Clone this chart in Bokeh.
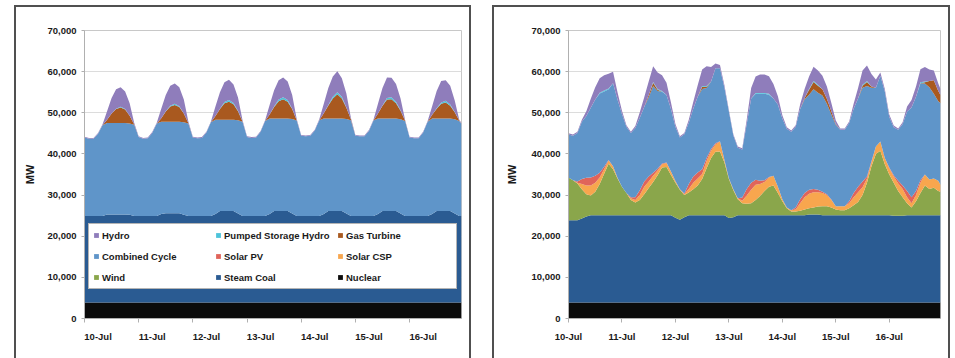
from bokeh.plotting import figure
from bokeh.models import (ColumnDataSource, Legend, LegendItem, FixedTicker,
                          NumeralTickFormatter, Range1d, Spacer)
from bokeh.layouts import row, column
from bokeh.embed import file_html
from bokeh.resources import INLINE

# ---------------- data ----------------
# sample times, hours after 10-Jul 00:00 (2-hour steps, last hour of 16-Jul)
HOURS = list(range(0, 168, 2)) + [167]
DAY_LABELS = ["10-Jul", "11-Jul", "12-Jul", "13-Jul", "14-Jul", "15-Jul", "16-Jul"]
Y_TICKS = [0, 10000, 20000, 30000, 40000, 50000, 60000, 70000]

# stacking order, bottom to top
KEYS = ["nuclear", "coal", "wind", "csp", "pv", "cc", "gt", "psh", "hydro"]
NAMES = {"hydro": "Hydro", "psh": "Pumped Storage Hydro", "gt": "Gas Turbine",
         "cc": "Combined Cycle", "pv": "Solar PV", "csp": "Solar CSP",
         "wind": "Wind", "coal": "Steam Coal", "nuclear": "Nuclear"}
# legend fills column by column: rows read Hydro/PSH/GT, CC/PV/CSP, Wind/Coal/Nuclear
LEGEND_ORDER = ["hydro", "cc", "wind", "psh", "pv", "coal", "gt", "csp", "nuclear"]
COLORS = {"hydro": "#8F7DBB", "psh": "#4CC3DA", "gt": "#A9591F",
          "cc": "#5F95C9", "pv": "#E0645A", "csp": "#F8A64E",
          "wind": "#8AA64B", "coal": "#2A5B92", "nuclear": "#0B0B0B"}

# ---- left panel (MW) ----
LEFT_NUCLEAR = [
    3900, 3900, 3900, 3900, 3900, 3900, 3900, 3900, 3900, 3900, 3900, 3900,
    3900, 3900, 3900, 3900, 3900, 3900, 3900, 3900, 3900, 3900, 3900, 3900,
    3900, 3900, 3900, 3900, 3900, 3900, 3900, 3900, 3900, 3900, 3900, 3900,
    3900, 3900, 3900, 3900, 3900, 3900, 3900, 3900, 3900, 3900, 3900, 3900,
    3900, 3900, 3900, 3900, 3900, 3900, 3900, 3900, 3900, 3900, 3900, 3900,
    3900, 3900, 3900, 3900, 3900, 3900, 3900, 3900, 3900, 3900, 3900, 3900,
    3900, 3900, 3900, 3900, 3900, 3900, 3900, 3900, 3900, 3900, 3900, 3900,
    3900]
LEFT_COAL = [
    21000, 21000, 21000, 21000, 21000, 21400, 21400, 21400, 21400, 21400, 21300, 21000,
    21000, 21000, 21000, 21000, 21000, 21500, 21700, 21700, 21700, 21700, 21300, 21000,
    21000, 21000, 21000, 21000, 21000, 21500, 22200, 22200, 22200, 22200, 21600, 21000,
    21000, 21000, 21000, 21000, 21000, 21500, 22200, 22200, 22200, 22200, 21600, 21000,
    21000, 21000, 21000, 21000, 21000, 21500, 22200, 22200, 22200, 22200, 21600, 21000,
    21000, 21000, 21000, 21000, 21000, 21500, 22200, 22200, 22200, 22200, 21600, 21000,
    21000, 21000, 21000, 21000, 21000, 21500, 22200, 22200, 22200, 22200, 21600, 21000,
    21000]
LEFT_WIND = [
    0, 0, 0, 0, 0, 0, 0, 0, 0, 0, 0, 0,
    0, 0, 0, 0, 0, 0, 0, 0, 0, 0, 0, 0,
    0, 0, 0, 0, 0, 0, 0, 0, 0, 0, 0, 0,
    0, 0, 0, 0, 0, 0, 0, 0, 0, 0, 0, 0,
    0, 0, 0, 0, 0, 0, 0, 0, 0, 0, 0, 0,
    0, 0, 0, 0, 0, 0, 0, 0, 0, 0, 0, 0,
    0, 0, 0, 0, 0, 0, 0, 0, 0, 0, 0, 0,
    0]
LEFT_SOLAR_CSP = list(LEFT_WIND)
LEFT_SOLAR_PV = list(LEFT_WIND)
LEFT_CC = [
    19100, 18800, 18800, 20000, 22100, 22200, 22200, 22200, 22200, 22200, 22200, 22200,
    19200, 18800, 18900, 20200, 22500, 22400, 22200, 22200, 22200, 22200, 22500, 22500,
    19100, 18900, 19000, 20300, 22800, 22900, 22200, 22200, 22200, 22200, 22700, 22900,
    19200, 19000, 19100, 20500, 23100, 23200, 22500, 22500, 22500, 22500, 23000, 23200,
    19500, 19400, 19500, 20800, 23300, 23200, 22500, 22500, 22500, 22500, 23000, 23300,
    19500, 19400, 19400, 20700, 23200, 23200, 22500, 22500, 22500, 22500, 22900, 23100,
    19100, 18900, 18900, 20300, 22900, 23200, 22500, 22500, 22500, 22500, 22900, 23100,
    22400]
LEFT_GT = [
    0, 0, 0, 0, 0, 800, 2300, 3400, 3800, 3300, 1900, 100,
    0, 0, 0, 0, 0, 900, 2500, 3700, 4100, 3600, 2100, 100,
    0, 0, 0, 0, 0, 900, 2600, 4000, 4400, 3800, 2200, 100,
    0, 0, 0, 0, 0, 1000, 2800, 4200, 4700, 4100, 2400, 100,
    0, 0, 0, 0, 0, 1300, 3200, 4900, 5900, 4900, 2700, 200,
    0, 0, 0, 0, 0, 1200, 3100, 4600, 4700, 3700, 2100, 100,
    0, 0, 0, 0, 0, 900, 2400, 3600, 3900, 3100, 1700, 100,
    0]
LEFT_PSH = [
    0, 0, 0, 0, 0, 0, 0, 100, 150, 100, 0, 0,
    0, 0, 0, 0, 0, 0, 100, 200, 300, 200, 0, 0,
    0, 0, 0, 0, 0, 0, 100, 300, 400, 300, 100, 0,
    0, 0, 0, 0, 0, 0, 100, 400, 500, 400, 100, 0,
    0, 0, 0, 0, 0, 0, 100, 400, 500, 400, 100, 0,
    0, 0, 0, 0, 0, 0, 100, 400, 500, 400, 100, 0,
    0, 0, 0, 0, 0, 0, 100, 300, 400, 300, 100, 0,
    0]
LEFT_HYDRO = [
    200, 200, 200, 200, 200, 2100, 3800, 4700, 4750, 4300, 3000, 400,
    200, 200, 200, 200, 200, 2300, 3900, 4900, 4900, 4600, 3400, 400,
    200, 200, 200, 200, 200, 2300, 4000, 4800, 4900, 4500, 3200, 300,
    200, 200, 200, 200, 200, 2300, 4000, 4700, 4800, 4500, 3300, 300,
    200, 200, 200, 200, 200, 2300, 4100, 4900, 5100, 4500, 3400, 400,
    200, 200, 200, 200, 200, 2400, 4200, 5000, 4700, 4300, 2900, 200,
    200, 200, 200, 200, 200, 2100, 4200, 5200, 5000, 4600, 2800, 200,
    200]

# ---- right panel (MW) ----
RIGHT_NUCLEAR = list(LEFT_NUCLEAR)
RIGHT_COAL = [
    20000, 20000, 20000, 20400, 20900, 21200, 21200, 21200, 21200, 21200, 21200, 21200,
    21200, 21200, 21200, 21200, 21200, 21200, 21200, 21200, 21200, 21200, 21200, 21200,
    20600, 20100, 20700, 21200, 21200, 21200, 21200, 21200, 21200, 21200, 21200, 21200,
    20500, 20700, 21200, 21200, 21200, 21200, 21200, 21200, 21200, 21200, 21200, 21200,
    21200, 21200, 21200, 21200, 21200, 21200, 21400, 21400, 21400, 21200, 21200, 21200,
    21200, 21200, 21200, 21200, 21200, 21200, 21200, 21200, 21200, 21200, 21200, 21200,
    21200, 21100, 21100, 21100, 21200, 21200, 21200, 21200, 21200, 21200, 21200, 21200,
    21200]
RIGHT_WIND = [
    10400, 9700, 8900, 7100, 5400, 4800, 5700, 7600, 10100, 12500, 11200, 8900,
    6900, 5400, 3700, 3100, 3700, 5100, 6600, 8100, 9700, 11600, 11700, 9800,
    8500, 7300, 5400, 5500, 6300, 7200, 8800, 11400, 13900, 15400, 15500, 12800,
    9500, 6600, 3900, 2900, 2800, 2900, 3700, 4700, 5900, 6900, 7200, 5400,
    3400, 1700, 900, 900, 1100, 1400, 1500, 1700, 1900, 2200, 2200, 1900,
    1400, 1200, 1200, 1700, 2400, 3200, 4900, 7900, 11900, 14900, 15700, 12400,
    9900, 8000, 6000, 4500, 2900, 1900, 3400, 5400, 7200, 6400, 6700, 5900,
    5700]
RIGHT_SOLAR_CSP = [
    0, 0, 200, 1300, 2100, 2400, 2200, 1600, 1100, 800, 700, 200,
    0, 0, 400, 600, 1200, 1800, 1600, 1500, 1200, 800, 1000, 800,
    400, 100, 200, 900, 1600, 1700, 1200, 1800, 1800, 1800, 2400, 600,
    200, 200, 200, 600, 2000, 3300, 3700, 2900, 2200, 2300, 2400, 1500,
    500, 200, 300, 500, 1800, 3000, 3500, 3700, 3500, 3200, 2700, 1800,
    800, 1000, 1000, 1200, 2000, 2400, 1900, 1000, 1000, 1800, 2200, 1500,
    1500, 1500, 1800, 2000, 1500, 1000, 1500, 2500, 2700, 2300, 2200, 2500,
    1700]
RIGHT_SOLAR_PV = [
    0, 0, 300, 1200, 1900, 2000, 1700, 1100, 600, 100, 0, 0,
    0, 0, 300, 700, 1200, 1300, 1200, 700, 400, 200, 100, 0,
    0, 0, 200, 1200, 1500, 1500, 1200, 700, 400, 300, 100, 0,
    0, 0, 0, 800, 1600, 1700, 1200, 800, 400, 100, 0, 0,
    0, 0, 0, 500, 1000, 1000, 1000, 800, 600, 300, 200, 100,
    0, 0, 0, 500, 1000, 1300, 1400, 500, 200, 0, 0, 0,
    200, 300, 700, 800, 1500, 1500, 1000, 600, 0, 0, 0, 0,
    0]
RIGHT_CC = [
    10400, 10800, 11800, 13900, 15000, 16900, 18500, 19300, 18300, 17200, 20200, 19000,
    17700, 16100, 15600, 16800, 17600, 18100, 19300, 21100, 18900, 17400, 16400, 15200,
    13200, 12600, 14400, 14900, 16500, 18400, 19500, 17000, 16400, 18200, 17700, 17600,
    16200, 13100, 12300, 11700, 15800, 20500, 20900, 21100, 21000, 20000, 18800, 20000,
    19600, 19100, 19100, 19600, 21900, 22800, 23100, 24200, 23600, 23400, 22000, 20700,
    19800, 18600, 18600, 19000, 20500, 21500, 22800, 22000, 17900, 14300, 16000, 16200,
    12300, 11700, 12400, 15000, 19300, 21800, 22900, 23600, 22100, 22400, 20600, 19300,
    19800]
RIGHT_GT = [
    0, 0, 0, 0, 0, 0, 0, 0, 0, 0, 0, 0,
    0, 0, 0, 0, 0, 0, 500, 800, 300, 0, 0, 0,
    0, 0, 0, 0, 0, 0, 500, 300, 0, 0, 0, 0,
    0, 0, 0, 0, 0, 0, 0, 0, 0, 0, 0, 0,
    0, 0, 0, 0, 0, 300, 1200, 1800, 1700, 1500, 1200, 800,
    200, 0, 0, 0, 0, 0, 500, 1000, 300, 0, 0, 0,
    0, 0, 0, 0, 0, 0, 0, 0, 300, 1500, 3300, 2500,
    2000]
RIGHT_PSH = [
    0, 0, 0, 0, 0, 0, 0, 200, 200, 200, 0, 0,
    0, 0, 0, 0, 0, 0, 0, 200, 200, 200, 0, 0,
    0, 0, 0, 0, 0, 0, 200, 200, 0, 0, 0, 0,
    0, 0, 0, 0, 0, 0, 200, 200, 200, 200, 0, 0,
    0, 0, 0, 0, 0, 0, 200, 200, 200, 0, 0, 0,
    0, 0, 0, 0, 0, 0, 200, 200, 0, 0, 0, 0,
    0, 0, 0, 0, 0, 0, 0, 200, 200, 0, 0, 0,
    0]
RIGHT_HYDRO = [
    300, 300, 300, 500, 1200, 2200, 3000, 3500, 3700, 3600, 2800, 1800,
    800, 400, 300, 500, 1300, 2400, 3300, 3800, 4000, 3800, 3000, 1600,
    700, 300, 300, 700, 1600, 2800, 4000, 4800, 3500, 1200, 800, 600,
    400, 300, 300, 300, 1000, 2500, 4000, 4500, 4500, 4300, 3500, 2000,
    800, 400, 300, 400, 1200, 2200, 3000, 3500, 3500, 3300, 3000, 2000,
    800, 300, 300, 400, 1200, 2500, 3500, 3800, 3000, 2000, 800, 600,
    600, 400, 300, 400, 1200, 1800, 2500, 3200, 3500, 2800, 2400, 1800,
    1500]

LEFT = {"nuclear": LEFT_NUCLEAR, "coal": LEFT_COAL, "wind": LEFT_WIND,
        "csp": LEFT_SOLAR_CSP, "pv": LEFT_SOLAR_PV, "cc": LEFT_CC,
        "gt": LEFT_GT, "psh": LEFT_PSH, "hydro": LEFT_HYDRO}
RIGHT = {"nuclear": RIGHT_NUCLEAR, "coal": RIGHT_COAL, "wind": RIGHT_WIND,
         "csp": RIGHT_SOLAR_CSP, "pv": RIGHT_SOLAR_PV, "cc": RIGHT_CC,
         "gt": RIGHT_GT, "psh": RIGHT_PSH, "hydro": RIGHT_HYDRO}

FONT = "Liberation Sans"
TXT = "#1a1a1a"
PANEL_H = 353


def make_panel(data, width, mb_left, mb_top, frame_h, label_offset, mw_standoff, legend):
    height = PANEL_H
    p = figure(width=width, height=height, output_backend="svg", toolbar_location=None,
               x_range=Range1d(0, 167), y_range=Range1d(0, 70000),
               min_border_left=mb_left, min_border_right=10, min_border_top=mb_top,
               min_border_bottom=height - mb_top - frame_h,
               background_fill_color="white", border_fill_color=None)
    # panel box: top, left and right edges (bottom edge lies below the visible area)
    p.styles = {"box-shadow": "inset 2px 2px 0 0 #505050, inset -2px 0 0 0 #505050",
                "background-color": "white"}
    p.outline_line_color = "#c8c8c8"
    p.outline_line_width = 1

    src = ColumnDataSource(dict(x=HOURS, **{k: data[k] for k in KEYS}))
    rends = p.varea_stack(stackers=KEYS, x="x", color=[COLORS[k] for k in KEYS], source=src)
    rmap = dict(zip(KEYS, rends))

    # axes
    p.xgrid.grid_line_color = None
    p.ygrid.grid_line_color = "#dcdcdc"
    p.ygrid.ticker = FixedTicker(ticks=Y_TICKS)
    yax = p.yaxis[0]
    yax.ticker = FixedTicker(ticks=Y_TICKS)
    yax.formatter = NumeralTickFormatter(format="0,0")
    yax.axis_label = "MW"
    yax.axis_label_text_font = FONT
    yax.axis_label_text_font_style = "bold"
    yax.axis_label_text_font_size = "11px"
    yax.axis_label_text_color = TXT
    yax.axis_label_standoff = mw_standoff
    yax.major_label_text_font = FONT
    yax.major_label_text_font_style = "bold"
    yax.major_label_text_font_size = "9.5px"
    yax.major_label_text_color = TXT
    yax.major_label_standoff = 5
    yax.axis_line_color = "#b0b0b0"
    yax.major_tick_line_color = "#b0b0b0"
    yax.major_tick_out = 3
    yax.major_tick_in = 0
    yax.minor_tick_line_color = None

    xax = p.xaxis[0]
    day_ticks = [24 * i for i in range(7)]
    label_ticks = [t + label_offset for t in day_ticks]
    xax.ticker = FixedTicker(ticks=label_ticks, minor_ticks=day_ticks)
    xax.major_label_overrides = {t: lab for t, lab in zip(label_ticks, DAY_LABELS)}
    xax.major_label_text_font = FONT
    xax.major_label_text_font_style = "bold"
    xax.major_label_text_font_size = "9.5px"
    xax.major_label_text_color = TXT
    xax.major_label_standoff = 8
    xax.axis_line_color = "#b0b0b0"
    if label_offset == 0:
        xax.major_tick_line_color = "#b0b0b0"
        xax.major_tick_out = 4
        xax.major_tick_in = 0
        xax.minor_tick_line_color = None
    else:
        xax.major_tick_line_color = None
        xax.major_tick_out = 4
        xax.minor_tick_line_color = "#b0b0b0"
        xax.minor_tick_out = 4
        xax.minor_tick_in = 0

    if legend:
        items = [LegendItem(label=NAMES[k], renderers=[rmap[k]]) for k in LEGEND_ORDER]
        leg = Legend(items=items, location=(4, 29), ncols=3,
                     label_text_font=FONT, label_text_font_style="bold",
                     label_text_font_size="9.5px", label_text_color=TXT,
                     glyph_width=6, glyph_height=6, label_standoff=3,
                     label_height=14, label_width=106, spacing=7, padding=4, margin=0,
                     border_line_color="#6a6a6a", border_line_width=1,
                     background_fill_color="white", background_fill_alpha=1.0)
        p.add_layout(leg, "center")
    return p


p1 = make_panel(LEFT, 457, 70, 25, 290, 6, 8, True)
p2 = make_panel(RIGHT, 458, 76, 21, 292, 0, 10, False)

layout = column(Spacer(width=950, height=5),
                row(Spacer(width=14, height=PANEL_H), p1,
                    Spacer(width=21, height=PANEL_H), p2))

open("out.html", "w").write(file_html(layout, INLINE))
